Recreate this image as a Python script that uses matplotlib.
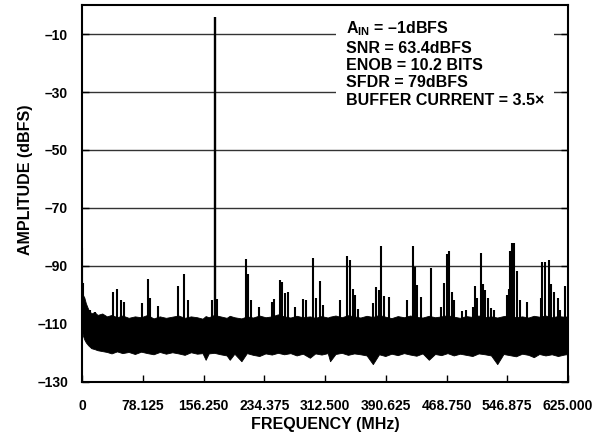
"""
FFT spectrum plot: amplitude (dBFS) vs frequency (MHz).

Noise floor drawn as a band between envelopes read off the reference,
fundamental and spurs drawn as vertical lines.
"""

import matplotlib
matplotlib.use("Agg")
import matplotlib.pyplot as plt


# ------------------------------------------------------------------ #
#  Data
# ------------------------------------------------------------------ #

x_ticks = [0, 78.125, 156.25, 234.375, 312.5, 390.625, 468.75, 546.875, 625.0]
x_tick_labels = ["0", "78.125", "156.250", "234.375", "312.500",
                 "390.625", "468.750", "546.875", "625.000"]
y_ticks = [-130, -110, -90, -70, -50, -30, -10]
y_tick_labels = ["–130", "–110", "–90", "–70", "–50", "–30", "–10"]
grid_levels = [-10, -30, -50, -70, -90]

# noise floor envelope (MHz, dBFS)
noise_freq = [0, 1, 3, 5, 8, 12, 16, 20, 26, 32, 38, 45, 52, 60, 68, 76,
              84, 92, 100, 108, 116, 124, 132, 140, 148, 155, 159, 163, 170,
              178, 186, 190, 196, 205, 212, 220, 228, 236, 244, 252, 260,
              268, 276, 284, 293, 300, 308, 316, 319, 326, 334, 342, 350,
              358, 366, 374, 382, 390, 398, 406, 414, 422, 430, 438, 446,
              454, 462, 470, 478, 486, 494, 502, 510, 518, 526, 534, 542,
              550, 558, 566, 574, 581, 588, 596, 604, 612, 620, 625]
noise_top = [-95, -100, -101, -103, -105, -106.5, -106, -107, -106.5, -107.5,
             -107, -107.8, -107.2, -108, -107.5, -107.8, -107, -108.2, -107.5,
             -108, -107.6, -107.2, -108, -107.5, -107.8, -108.3, -107.4,
             -107.8, -107, -107.5, -108, -107.3, -107.8, -108.2, -107.5,
             -107.9, -107.2, -107.8, -107.5, -106.8, -107.5, -107.9, -107.3,
             -107.8, -107.5, -108, -107.4, -107.9, -107.6, -107.2, -107.8,
             -107.1, -107.5, -107.9, -107.3, -107.7, -107, -107.6, -108.1,
             -107.4, -107.8, -107.2, -107.7, -107.9, -107.3, -107.8, -107.5,
             -107.1, -107.6, -108, -107.4, -107.7, -107.2, -107.8, -107.5,
             -107.9, -107.4, -107.1, -107.8, -107.5, -107.9, -107.3, -107.6,
             -107.2, -107.8, -107.4, -107.6, -107.5]
noise_bot = [-112, -114, -115.5, -116.5, -117.5, -118.5, -118.8, -119.2,
             -119.5, -119.8, -120.3, -119.6, -120.2, -119.8, -120.5, -119.7,
             -120.2, -120.6, -119.8, -120.4, -119.9, -120.3, -120.8, -119.9,
             -120.4, -120.2, -122.5, -120.3, -120.1, -120.6, -121, -122.5,
             -120.4, -123, -120.2, -120.8, -121.2, -120.3, -120.7, -120.1,
             -120.6, -120.2, -121, -120.4, -121.8, -120.3, -120.7, -120.2,
             -123, -120.5, -120.1, -120.8, -120.3, -120.6, -121, -124,
             -120.6, -121.2, -120.4, -120.9, -120.2, -120.7, -121.1, -120.3,
             -122.5, -120.5, -120.9, -120.2, -121, -120.4, -120.8, -121.2,
             -120.3, -120.6, -121, -124, -120.5, -120.9, -121.3, -120.4,
             -120.8, -121.6, -120.5, -121, -120.6, -121.2, -120.7, -120.5]

# fundamental
fund_freq = 170.7
fund_db = -4.0

# spurs above the floor (MHz, dBFS)
spur_freq = [0.3, 1.2, 10.3, 16.7, 39.9, 44.6, 50.2, 54.4, 77.5, 84.5, 87.1,
             97.4, 123.8, 130.8, 136.7, 167.2, 174.0, 210.9, 213.9, 217.3,
             227.2, 244.0, 247.3, 254.2, 257.2, 261.1, 265.3, 273.9, 283.8,
             288.1, 297.7, 300.9, 305.7, 309.5, 331.2, 340.4, 344.3, 348.1,
             351.1, 354.6, 374.6, 378.1, 381.6, 384.5, 388.4, 394.8, 418.0,
             425.3, 428.2, 431.2, 435.9, 448.8, 461.3, 465.5, 469.0, 472.4,
             476.2, 478.8, 488.3, 493.5, 502.4, 505.4, 508.4, 512.7, 515.7,
             518.3, 522.1, 526.0, 529.8, 546.2, 549.1, 550.4, 553.4, 556.0,
             559.4, 563.3, 572.7, 590.3, 591.9, 595.4, 600.2, 603.1, 607.0,
             611.8, 614.7, 621.2]
spur_db = [-84, -96, -105.3, -106, -99, -98, -101.8, -102.5, -102.8, -94.7,
           -101, -104, -96.9, -92.9, -102, -101.8, -101.5, -87.8, -93,
           -101.8, -104.4, -102.6, -101.5, -95, -95.5, -99.5, -99, -104.4,
           -101.5, -101.9, -87.5, -101.3, -95.2, -103.6, -101.8, -86.6, -88,
           -98.1, -100, -105, -103, -97.4, -98.4, -83.1, -100.5, -100.7,
           -102, -83.1, -90.3, -96.6, -100.7, -90.9, -104.4, -96.1, -86,
           -84.8, -99, -101.8, -105.6, -105.3, -104.4, -97.1, -101.3, -85.7,
           -96.4, -98.4, -101.3, -104.7, -105.2, -100, -98.1, -84.8, -82.3,
           -82.3, -91.7, -101.8, -102.4, -101, -88.6, -88.7, -88, -96.3,
           -99, -101.3, -105.2, -97.1]

info_lines = [
    r"A$_{\mathbf{IN}}$ = –1dBFS",
    "SNR = 63.4dBFS",
    "ENOB = 10.2 BITS",
    "SFDR = 79dBFS",
    "BUFFER CURRENT = 3.5×",
]


# ------------------------------------------------------------------ #
#  Plot
# ------------------------------------------------------------------ #

plt.rcParams["font.family"] = ["Liberation Sans", "DejaVu Sans"]
plt.rcParams["font.weight"] = "bold"
plt.rcParams["mathtext.fontset"] = "custom"
plt.rcParams["mathtext.rm"] = "Liberation Sans:bold"
plt.rcParams["mathtext.bf"] = "Liberation Sans:bold"

fig = plt.figure(figsize=(5.92, 4.36), dpi=100)
ax = fig.add_axes([0.1385, 0.125, 0.821, 0.863])

for lvl in grid_levels:
    ax.axhline(lvl, color="#333333", lw=1.0, zorder=1)

ax.fill_between(noise_freq, noise_bot, noise_top, color="black", lw=0.6,
                edgecolor="black", zorder=2)
ax.vlines(spur_freq, -112, spur_db, color="black", lw=1.5, zorder=2)
ax.vlines([fund_freq], -112, [fund_db], color="black", lw=1.7, zorder=2)

ax.text(0.543, 0.962, "\n".join(info_lines), transform=ax.transAxes,
        fontsize=11.5, fontweight="bold", va="top", ha="left",
        linespacing=1.2, zorder=5,
        bbox=dict(facecolor="white", edgecolor="none", pad=7))

ax.set_xlim(0, 625)
ax.set_ylim(-130, 0)
ax.set_xticks(x_ticks)
ax.set_xticklabels(x_tick_labels)
ax.set_yticks(y_ticks)
ax.set_yticklabels(y_tick_labels)
ax.tick_params(axis="both", direction="in", labelsize=10, width=1.0,
               length=5, right=True, left=True, top=False)
ax.tick_params(axis="x", pad=12.5)
ax.tick_params(axis="y", pad=10)

for s in ax.spines.values():
    s.set_linewidth(1.5)

ax.set_xlabel("FREQUENCY (MHz)", fontsize=11.5, fontweight="bold", labelpad=3)
ax.set_ylabel("AMPLITUDE (dBFS)", fontsize=11.5, fontweight="bold")
ax.yaxis.set_label_coords(-0.1, 0.535)

fig.savefig("out.png", dpi=100)
